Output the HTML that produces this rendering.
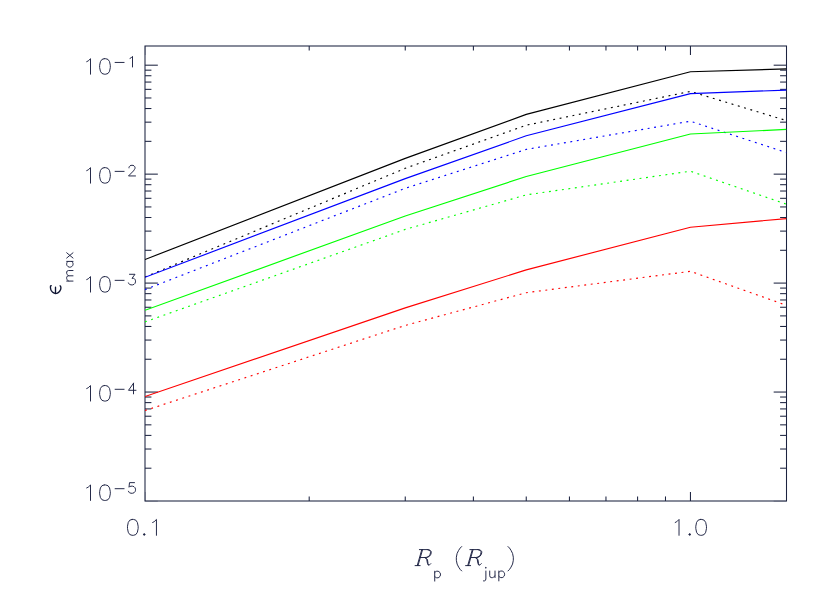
<!DOCTYPE html>
<html><head><meta charset="utf-8"><title>plot</title>
<style>
html,body{margin:0;padding:0;background:#fff;font-family:"Liberation Sans",sans-serif;}
svg{display:block}
</style></head><body>
<svg width="830" height="593" viewBox="0 0 830 593">
<rect width="830" height="593" fill="#ffffff"/>
<rect x="145.00" y="46.00" width="641.50" height="455.00" fill="none" stroke="#1c2340" stroke-width="1.05"/>
<line x1="145.30" y1="501.00" x2="145.30" y2="491.90" stroke="#1c2340" stroke-width="1.05" opacity="0.3"/>
<line x1="145.30" y1="46.00" x2="145.30" y2="55.10" stroke="#1c2340" stroke-width="1.05" opacity="0.3"/>
<line x1="309.20" y1="501.00" x2="309.20" y2="496.45" stroke="#1c2340" stroke-width="1.05" />
<line x1="309.20" y1="46.00" x2="309.20" y2="50.55" stroke="#1c2340" stroke-width="1.05" />
<line x1="405.25" y1="501.00" x2="405.25" y2="496.45" stroke="#1c2340" stroke-width="1.05" />
<line x1="405.25" y1="46.00" x2="405.25" y2="50.55" stroke="#1c2340" stroke-width="1.05" />
<line x1="473.39" y1="501.00" x2="473.39" y2="496.45" stroke="#1c2340" stroke-width="1.05" />
<line x1="473.39" y1="46.00" x2="473.39" y2="50.55" stroke="#1c2340" stroke-width="1.05" />
<line x1="526.25" y1="501.00" x2="526.25" y2="496.45" stroke="#1c2340" stroke-width="1.05" />
<line x1="526.25" y1="46.00" x2="526.25" y2="50.55" stroke="#1c2340" stroke-width="1.05" />
<line x1="569.44" y1="501.00" x2="569.44" y2="496.45" stroke="#1c2340" stroke-width="1.05" />
<line x1="569.44" y1="46.00" x2="569.44" y2="50.55" stroke="#1c2340" stroke-width="1.05" />
<line x1="605.96" y1="501.00" x2="605.96" y2="496.45" stroke="#1c2340" stroke-width="1.05" />
<line x1="605.96" y1="46.00" x2="605.96" y2="50.55" stroke="#1c2340" stroke-width="1.05" />
<line x1="637.59" y1="501.00" x2="637.59" y2="496.45" stroke="#1c2340" stroke-width="1.05" />
<line x1="637.59" y1="46.00" x2="637.59" y2="50.55" stroke="#1c2340" stroke-width="1.05" />
<line x1="665.49" y1="501.00" x2="665.49" y2="496.45" stroke="#1c2340" stroke-width="1.05" />
<line x1="665.49" y1="46.00" x2="665.49" y2="50.55" stroke="#1c2340" stroke-width="1.05" />
<line x1="690.45" y1="501.00" x2="690.45" y2="491.90" stroke="#1c2340" stroke-width="1.05" />
<line x1="690.45" y1="46.00" x2="690.45" y2="55.10" stroke="#1c2340" stroke-width="1.05" />
<line x1="145.00" y1="501.20" x2="157.83" y2="501.20" stroke="#1c2340" stroke-width="1.05" opacity="0.3"/>
<line x1="786.50" y1="501.20" x2="773.67" y2="501.20" stroke="#1c2340" stroke-width="1.05" opacity="0.3"/>
<line x1="145.00" y1="468.20" x2="151.41" y2="468.20" stroke="#1c2340" stroke-width="1.05" />
<line x1="786.50" y1="468.20" x2="780.09" y2="468.20" stroke="#1c2340" stroke-width="1.05" />
<line x1="145.00" y1="449.02" x2="151.41" y2="449.02" stroke="#1c2340" stroke-width="1.05" />
<line x1="786.50" y1="449.02" x2="780.09" y2="449.02" stroke="#1c2340" stroke-width="1.05" />
<line x1="145.00" y1="435.40" x2="151.41" y2="435.40" stroke="#1c2340" stroke-width="1.05" />
<line x1="786.50" y1="435.40" x2="780.09" y2="435.40" stroke="#1c2340" stroke-width="1.05" />
<line x1="145.00" y1="424.84" x2="151.41" y2="424.84" stroke="#1c2340" stroke-width="1.05" />
<line x1="786.50" y1="424.84" x2="780.09" y2="424.84" stroke="#1c2340" stroke-width="1.05" />
<line x1="145.00" y1="416.22" x2="151.41" y2="416.22" stroke="#1c2340" stroke-width="1.05" />
<line x1="786.50" y1="416.22" x2="780.09" y2="416.22" stroke="#1c2340" stroke-width="1.05" />
<line x1="145.00" y1="408.92" x2="151.41" y2="408.92" stroke="#1c2340" stroke-width="1.05" />
<line x1="786.50" y1="408.92" x2="780.09" y2="408.92" stroke="#1c2340" stroke-width="1.05" />
<line x1="145.00" y1="402.61" x2="151.41" y2="402.61" stroke="#1c2340" stroke-width="1.05" />
<line x1="786.50" y1="402.61" x2="780.09" y2="402.61" stroke="#1c2340" stroke-width="1.05" />
<line x1="145.00" y1="397.03" x2="151.41" y2="397.03" stroke="#1c2340" stroke-width="1.05" />
<line x1="786.50" y1="397.03" x2="780.09" y2="397.03" stroke="#1c2340" stroke-width="1.05" />
<line x1="145.00" y1="392.05" x2="157.83" y2="392.05" stroke="#1c2340" stroke-width="1.05" />
<line x1="786.50" y1="392.05" x2="773.67" y2="392.05" stroke="#1c2340" stroke-width="1.05" />
<line x1="145.00" y1="359.25" x2="151.41" y2="359.25" stroke="#1c2340" stroke-width="1.05" />
<line x1="786.50" y1="359.25" x2="780.09" y2="359.25" stroke="#1c2340" stroke-width="1.05" />
<line x1="145.00" y1="340.06" x2="151.41" y2="340.06" stroke="#1c2340" stroke-width="1.05" />
<line x1="786.50" y1="340.06" x2="780.09" y2="340.06" stroke="#1c2340" stroke-width="1.05" />
<line x1="145.00" y1="326.45" x2="151.41" y2="326.45" stroke="#1c2340" stroke-width="1.05" />
<line x1="786.50" y1="326.45" x2="780.09" y2="326.45" stroke="#1c2340" stroke-width="1.05" />
<line x1="145.00" y1="315.89" x2="151.41" y2="315.89" stroke="#1c2340" stroke-width="1.05" />
<line x1="786.50" y1="315.89" x2="780.09" y2="315.89" stroke="#1c2340" stroke-width="1.05" />
<line x1="145.00" y1="307.26" x2="151.41" y2="307.26" stroke="#1c2340" stroke-width="1.05" />
<line x1="786.50" y1="307.26" x2="780.09" y2="307.26" stroke="#1c2340" stroke-width="1.05" />
<line x1="145.00" y1="299.97" x2="151.41" y2="299.97" stroke="#1c2340" stroke-width="1.05" />
<line x1="786.50" y1="299.97" x2="780.09" y2="299.97" stroke="#1c2340" stroke-width="1.05" />
<line x1="145.00" y1="293.65" x2="151.41" y2="293.65" stroke="#1c2340" stroke-width="1.05" />
<line x1="786.50" y1="293.65" x2="780.09" y2="293.65" stroke="#1c2340" stroke-width="1.05" />
<line x1="145.00" y1="288.08" x2="151.41" y2="288.08" stroke="#1c2340" stroke-width="1.05" />
<line x1="786.50" y1="288.08" x2="780.09" y2="288.08" stroke="#1c2340" stroke-width="1.05" />
<line x1="145.00" y1="283.09" x2="157.83" y2="283.09" stroke="#1c2340" stroke-width="1.05" />
<line x1="786.50" y1="283.09" x2="773.67" y2="283.09" stroke="#1c2340" stroke-width="1.05" />
<line x1="145.00" y1="250.29" x2="151.41" y2="250.29" stroke="#1c2340" stroke-width="1.05" />
<line x1="786.50" y1="250.29" x2="780.09" y2="250.29" stroke="#1c2340" stroke-width="1.05" />
<line x1="145.00" y1="231.11" x2="151.41" y2="231.11" stroke="#1c2340" stroke-width="1.05" />
<line x1="786.50" y1="231.11" x2="780.09" y2="231.11" stroke="#1c2340" stroke-width="1.05" />
<line x1="145.00" y1="217.50" x2="151.41" y2="217.50" stroke="#1c2340" stroke-width="1.05" />
<line x1="786.50" y1="217.50" x2="780.09" y2="217.50" stroke="#1c2340" stroke-width="1.05" />
<line x1="145.00" y1="206.94" x2="151.41" y2="206.94" stroke="#1c2340" stroke-width="1.05" />
<line x1="786.50" y1="206.94" x2="780.09" y2="206.94" stroke="#1c2340" stroke-width="1.05" />
<line x1="145.00" y1="198.31" x2="151.41" y2="198.31" stroke="#1c2340" stroke-width="1.05" />
<line x1="786.50" y1="198.31" x2="780.09" y2="198.31" stroke="#1c2340" stroke-width="1.05" />
<line x1="145.00" y1="191.02" x2="151.41" y2="191.02" stroke="#1c2340" stroke-width="1.05" />
<line x1="786.50" y1="191.02" x2="780.09" y2="191.02" stroke="#1c2340" stroke-width="1.05" />
<line x1="145.00" y1="184.70" x2="151.41" y2="184.70" stroke="#1c2340" stroke-width="1.05" />
<line x1="786.50" y1="184.70" x2="780.09" y2="184.70" stroke="#1c2340" stroke-width="1.05" />
<line x1="145.00" y1="179.12" x2="151.41" y2="179.12" stroke="#1c2340" stroke-width="1.05" />
<line x1="786.50" y1="179.12" x2="780.09" y2="179.12" stroke="#1c2340" stroke-width="1.05" />
<line x1="145.00" y1="174.14" x2="157.83" y2="174.14" stroke="#1c2340" stroke-width="1.05" />
<line x1="786.50" y1="174.14" x2="773.67" y2="174.14" stroke="#1c2340" stroke-width="1.05" />
<line x1="145.00" y1="141.34" x2="151.41" y2="141.34" stroke="#1c2340" stroke-width="1.05" />
<line x1="786.50" y1="141.34" x2="780.09" y2="141.34" stroke="#1c2340" stroke-width="1.05" />
<line x1="145.00" y1="122.16" x2="151.41" y2="122.16" stroke="#1c2340" stroke-width="1.05" />
<line x1="786.50" y1="122.16" x2="780.09" y2="122.16" stroke="#1c2340" stroke-width="1.05" />
<line x1="145.00" y1="108.54" x2="151.41" y2="108.54" stroke="#1c2340" stroke-width="1.05" />
<line x1="786.50" y1="108.54" x2="780.09" y2="108.54" stroke="#1c2340" stroke-width="1.05" />
<line x1="145.00" y1="97.98" x2="151.41" y2="97.98" stroke="#1c2340" stroke-width="1.05" />
<line x1="786.50" y1="97.98" x2="780.09" y2="97.98" stroke="#1c2340" stroke-width="1.05" />
<line x1="145.00" y1="89.36" x2="151.41" y2="89.36" stroke="#1c2340" stroke-width="1.05" />
<line x1="786.50" y1="89.36" x2="780.09" y2="89.36" stroke="#1c2340" stroke-width="1.05" />
<line x1="145.00" y1="82.06" x2="151.41" y2="82.06" stroke="#1c2340" stroke-width="1.05" />
<line x1="786.50" y1="82.06" x2="780.09" y2="82.06" stroke="#1c2340" stroke-width="1.05" />
<line x1="145.00" y1="75.74" x2="151.41" y2="75.74" stroke="#1c2340" stroke-width="1.05" />
<line x1="786.50" y1="75.74" x2="780.09" y2="75.74" stroke="#1c2340" stroke-width="1.05" />
<line x1="145.00" y1="70.17" x2="151.41" y2="70.17" stroke="#1c2340" stroke-width="1.05" />
<line x1="786.50" y1="70.17" x2="780.09" y2="70.17" stroke="#1c2340" stroke-width="1.05" />
<line x1="145.00" y1="65.19" x2="157.83" y2="65.19" stroke="#1c2340" stroke-width="1.05" />
<line x1="786.50" y1="65.19" x2="773.67" y2="65.19" stroke="#1c2340" stroke-width="1.05" />
<clipPath id="c"><rect x="145.00" y="46.00" width="641.50" height="455.00"/></clipPath>
<g clip-path="url(#c)" fill="none" stroke-linejoin="round">
<polyline points="145.00,259.50 405.25,158.40 526.25,114.40 690.45,71.70 786.50,68.90" stroke="#000000" stroke-width="1.15"/>
<polyline points="145.00,277.00 405.25,168.30 526.25,125.20 690.45,91.40 786.50,120.60" stroke="#000000" stroke-width="1.15" stroke-dasharray="1.9 4.638"/>
<polyline points="145.00,277.30 405.25,178.60 526.25,135.80 690.45,93.60 786.50,90.10" stroke="#0000ff" stroke-width="1.15"/>
<polyline points="145.00,289.60 405.25,188.30 526.25,149.40 690.45,121.20 786.50,152.60" stroke="#0000ff" stroke-width="1.15" stroke-dasharray="1.9 4.638"/>
<polyline points="145.00,310.30 405.25,216.00 526.25,176.50 690.45,134.00 786.50,129.40" stroke="#00ff00" stroke-width="1.15"/>
<polyline points="145.00,321.90 405.25,229.40 526.25,194.90 690.45,171.20 786.50,204.20" stroke="#00ff00" stroke-width="1.15" stroke-dasharray="1.9 4.638"/>
<polyline points="145.00,396.50 405.25,307.90 526.25,269.90 690.45,227.20 786.50,218.60" stroke="#ff0000" stroke-width="1.15"/>
<polyline points="145.00,410.50 405.25,325.40 526.25,292.70 690.45,271.30 786.50,305.30" stroke="#ff0000" stroke-width="1.15" stroke-dasharray="1.9 4.638"/>
</g>
<path d="M51.19 285.61 L50.51 286.10 L50.43 287.51 L50.70 289.19 L51.27 290.60 L52.34 291.93 L53.71 292.92 L55.50 293.49 L57.40 293.11 L58.89 292.09 L60.00 290.79 L60.72 289.30 L60.91 287.70 L60.60 286.29 L60.03 285.84 M55.50 293.38 L55.50 287.13" fill="none" stroke="#0e1432" stroke-width="1.35" stroke-linecap="round" stroke-linejoin="round"/>
<path d="M132.06 519.44 L129.77 520.20 L128.25 522.46 L127.49 526.24 L127.49 528.50 L128.25 532.28 L129.77 534.54 L132.06 535.30 L133.58 535.30 L135.87 534.54 L137.39 532.28 L138.15 528.50 L138.15 526.24 L137.39 522.46 L135.87 520.20 L133.58 519.44 L132.06 519.44 M144.25 533.79 L143.49 534.54 L144.25 535.30 L145.01 534.54 L144.25 533.79 M143.79 534.54 L144.71 534.54 M144.25 534.09 L144.25 535.00 M152.63 522.46 L154.16 521.71 L156.44 519.44 L156.44 535.30 M675.22 522.46 L676.75 521.71 L679.03 519.44 L679.03 535.30 M689.70 533.79 L688.94 534.54 L689.70 535.30 L690.46 534.54 L689.70 533.79 M689.24 534.54 L690.16 534.54 M689.70 534.09 L689.70 535.00 M700.37 519.44 L698.08 520.20 L696.56 522.46 L695.80 526.24 L695.80 528.50 L696.56 532.28 L698.08 534.54 L700.37 535.30 L701.89 535.30 L704.18 534.54 L705.70 532.28 L706.46 528.50 L706.46 526.24 L705.70 522.46 L704.18 520.20 L701.89 519.44 L700.37 519.44 M86.69 61.66 L88.21 60.92 L90.50 58.71 L90.50 74.19 M104.22 58.71 L101.93 59.45 L100.41 61.66 L99.64 65.34 L99.64 67.55 L100.41 71.24 L101.93 73.45 L104.22 74.19 L105.74 74.19 L108.03 73.45 L109.55 71.24 L110.31 67.55 L110.31 65.34 L109.55 61.66 L108.03 59.45 L105.74 58.71 L104.22 58.71 M115.10 62.44 L124.10 62.44 M130.00 58.40 L131.00 57.90 L132.50 56.38 L132.50 66.99 M86.69 170.61 L88.21 169.87 L90.50 167.66 L90.50 183.14 M104.22 167.66 L101.93 168.40 L100.41 170.61 L99.64 174.30 L99.64 176.51 L100.41 180.19 L101.93 182.40 L104.22 183.14 L105.74 183.14 L108.03 182.40 L109.55 180.19 L110.31 176.51 L110.31 174.30 L109.55 170.61 L108.03 168.40 L105.74 167.66 L104.22 167.66 M115.10 171.39 L124.10 171.39 M129.00 167.86 L129.00 167.35 L129.50 166.34 L130.00 165.84 L131.00 165.33 L133.00 165.33 L134.00 165.84 L134.50 166.34 L135.00 167.35 L135.00 168.36 L134.50 169.37 L133.50 170.89 L128.50 175.94 L135.50 175.94 M86.69 279.56 L88.21 278.83 L90.50 276.62 L90.50 292.09 M104.22 276.62 L101.93 277.35 L100.41 279.56 L99.64 283.25 L99.64 285.46 L100.41 289.14 L101.93 291.36 L104.22 292.09 L105.74 292.09 L108.03 291.36 L109.55 289.14 L110.31 285.46 L110.31 283.25 L109.55 279.56 L108.03 277.35 L105.74 276.62 L104.22 276.62 M115.10 280.35 L124.10 280.35 M129.50 274.29 L135.00 274.29 L132.00 278.33 L133.50 278.33 L134.50 278.83 L135.00 279.34 L135.50 280.85 L135.50 281.86 L135.00 283.38 L134.00 284.39 L132.50 284.89 L131.00 284.89 L129.50 284.39 L129.00 283.88 L128.50 282.87 M86.69 388.52 L88.21 387.78 L90.50 385.57 L90.50 401.05 M104.22 385.57 L101.93 386.31 L100.41 388.52 L99.64 392.20 L99.64 394.41 L100.41 398.10 L101.93 400.31 L104.22 401.05 L105.74 401.05 L108.03 400.31 L109.55 398.10 L110.31 394.41 L110.31 392.20 L109.55 388.52 L108.03 386.31 L105.74 385.57 L104.22 385.57 M115.10 389.30 L124.10 389.30 M133.50 383.24 L128.50 390.31 L136.00 390.31 M133.50 383.24 L133.50 393.85 M86.69 487.92 L88.21 487.18 L90.50 484.97 L90.50 500.45 M104.22 484.97 L101.93 485.71 L100.41 487.92 L99.64 491.61 L99.64 493.82 L100.41 497.50 L101.93 499.71 L104.22 500.45 L105.74 500.45 L108.03 499.71 L109.55 497.50 L110.31 493.82 L110.31 491.61 L109.55 487.92 L108.03 485.71 L105.74 484.97 L104.22 484.97 M115.10 488.70 L124.10 488.70 M134.50 482.64 L129.50 482.64 L129.00 487.19 L129.50 486.69 L131.00 486.18 L132.50 486.18 L134.00 486.69 L135.00 487.69 L135.50 489.21 L135.50 490.22 L135.00 491.74 L134.00 492.75 L132.50 493.25 L131.00 493.25 L129.50 492.75 L129.00 492.24 L128.50 491.23 M421.81 549.60 L417.23 565.60 M422.57 549.60 L418.00 565.60 M419.37 549.60 L427.67 549.60 L429.96 550.13 L431.10 551.35 L431.25 552.80 L430.64 554.78 L429.27 556.46 L427.29 557.22 L425.01 557.52 L420.13 557.52 M427.29 549.60 L429.27 550.21 L430.34 551.43 L430.49 552.80 L429.88 554.78 L428.66 556.46 L426.83 557.37 M424.62 557.52 L426.00 558.13 L426.68 559.12 L427.44 563.31 L427.90 564.69 L428.66 565.14 L429.58 564.84 L430.80 563.62 M425.31 557.83 L426.68 558.89 L427.44 559.50 L428.05 563.77 L428.51 564.84 M415.10 565.60 L420.13 565.60 M434.72 571.22 L434.72 581.09 M434.72 572.63 L435.68 571.69 L436.64 571.22 L438.08 571.22 L439.04 571.69 L440.00 572.63 L440.48 574.04 L440.48 574.98 L440.00 576.39 L439.04 577.33 L438.08 577.80 L436.64 577.80 L435.68 577.33 L434.72 576.39 M461.68 546.55 L460.16 548.07 L458.63 550.36 L457.11 553.41 L456.35 557.22 L456.35 560.27 L457.11 564.08 L458.63 567.12 L460.16 569.41 L461.68 570.93 M472.31 549.60 L467.73 565.60 M473.07 549.60 L468.50 565.60 M469.87 549.60 L478.17 549.60 L480.46 550.13 L481.60 551.35 L481.75 552.80 L481.14 554.78 L479.77 556.46 L477.79 557.22 L475.51 557.52 L470.63 557.52 M477.79 549.60 L479.77 550.21 L480.84 551.43 L480.99 552.80 L480.38 554.78 L479.16 556.46 L477.33 557.37 M475.12 557.52 L476.50 558.13 L477.18 559.12 L477.94 563.31 L478.40 564.69 L479.16 565.14 L480.08 564.84 L481.30 563.62 M475.81 557.83 L477.18 558.89 L477.94 559.50 L478.55 563.77 L479.01 564.84 M465.60 565.60 L470.63 565.60 M485.40 567.73 L485.88 568.20 L486.36 567.73 L485.88 567.26 L485.40 567.73 M485.88 571.02 L485.88 579.01 L485.40 580.42 L484.44 580.89 L483.48 580.89 M489.72 571.02 L489.72 575.72 L490.20 577.13 L491.16 577.60 L492.60 577.60 L493.56 577.13 L495.00 575.72 M495.00 571.02 L495.00 577.60 M498.84 571.02 L498.84 580.89 M498.84 572.43 L499.80 571.49 L500.76 571.02 L502.20 571.02 L503.16 571.49 L504.12 572.43 L504.60 573.84 L504.60 574.78 L504.12 576.19 L503.16 577.13 L502.20 577.60 L500.76 577.60 L499.80 577.13 L498.84 576.19 M507.99 546.55 L509.51 548.07 L511.03 550.36 L512.56 553.41 L513.32 557.22 L513.32 560.27 L512.56 564.08 L511.03 567.12 L509.51 569.41 L507.99 570.93 M66.70 281.08 L73.00 281.08 M68.50 281.08 L67.15 279.64 L66.70 278.68 L66.70 277.24 L67.15 276.28 L68.50 275.80 L73.00 275.80 M68.50 275.80 L67.15 274.36 L66.70 273.40 L66.70 271.96 L67.15 271.00 L68.50 270.52 L73.00 270.52 M66.70 261.40 L73.00 261.40 M68.05 261.40 L67.15 262.36 L66.70 263.32 L66.70 264.76 L67.15 265.72 L68.05 266.68 L69.40 267.16 L70.30 267.16 L71.65 266.68 L72.55 265.72 L73.00 264.76 L73.00 263.32 L72.55 262.36 L71.65 261.40 M66.70 258.04 L73.00 252.76 M66.70 252.76 L73.00 258.04" fill="none" stroke="#1a2040" stroke-width="0.95" stroke-linecap="round" stroke-linejoin="round"/>
</svg>
</body></html>
